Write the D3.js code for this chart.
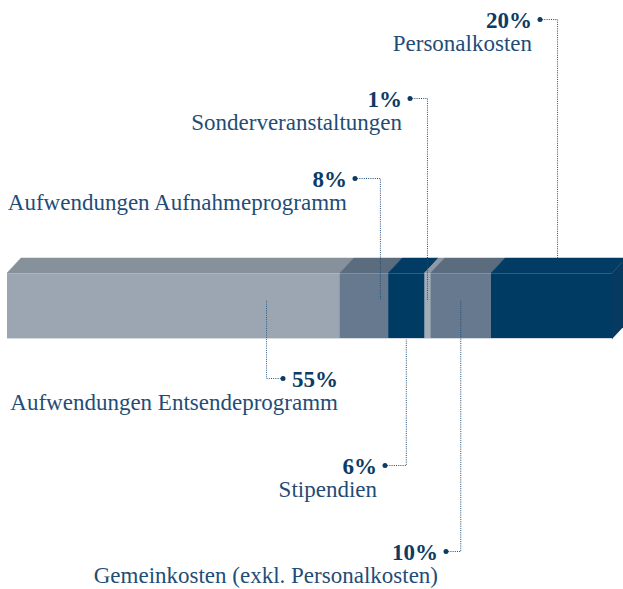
<!DOCTYPE html>
<html>
<head>
<meta charset="utf-8">
<script src="https://cdn.jsdelivr.net/npm/d3@7"></script>
<style>
  body { margin: 0; background: #fff; }
  svg { display: block; }
</style>
</head>
<body>
<script>
// data
const categories = [
  "Aufwendungen Entsendeprogramm",
  "Aufwendungen Aufnahmeprogramm",
  "Stipendien",
  "Sonderveranstaltungen",
  "Gemeinkosten (exkl. Personalkosten)",
  "Personalkosten",
];
const shares = [55, 8, 6, 1, 10, 20];

// front / top colours per segment
const frontColors = ["#9ba6b2", "#66798e", "#003b64", "#a3adb8", "#66798e", "#003b64"];
const topColors = ["#86919b", "#5b6c7e", "#023b63", "#8e99a4", "#5b6c7e", "#023b63"];

// label layout: right edge of text, baseline of percentage, leader anchor
const labelRight = [338, 347, 377, 402, 438, 532];
const labelBase = [387, 187, 474, 107, 560, 28];
const dotSide = ["left", "right", "right", "right", "right", "right"];
const anchorFrac = [0.78, 0.84, 0.5, 0.5, 0.5, 0.55];
const anchorEnd = ["mid", "mid", "bottom", "mid", "mid", "top"];

const width = 623;
const height = 589;

const barTop = 273;
const barBottom = 339;
const depthX = 14;
const depthY = 15;

const xScale = d3.scaleLinear().domain([0, d3.sum(shares)]).range([7, 612]);

const ends = d3.cumsum(shares);
const segments = shares.map((v, i) => ({
  name: categories[i],
  value: v,
  x0: xScale(ends[i] - v),
  x1: xScale(ends[i]),
  i,
}));

const svg = d3
  .select("body")
  .append("svg")
  .attr("width", width)
  .attr("height", height);

const barGroup = svg.append("g");

// top faces
barGroup
  .selectAll("path.top")
  .data(segments)
  .enter()
  .append("path")
  .attr("class", "top")
  .attr("fill", (d) => topColors[d.i])
  .attr("stroke", (d) => topColors[d.i])
  .attr("stroke-width", 0.5)
  .attr(
    "d",
    (d) =>
      `M${d.x0},${barTop} L${d.x1},${barTop} L${d.x1 + depthX},${barTop - depthY} L${d.x0 + depthX},${barTop - depthY}Z`
  );

// front faces
barGroup
  .selectAll("rect.front")
  .data(segments)
  .enter()
  .append("rect")
  .attr("class", "front")
  .attr("fill", (d) => frontColors[d.i])
  .attr("x", (d) => d.x0)
  .attr("y", barTop)
  .attr("width", (d) => d.x1 - d.x0 + 0.3)
  .attr("height", barBottom - barTop);

// right side face of last segment
const last = segments[segments.length - 1];
barGroup
  .append("path")
  .attr("fill", "#063a60")
  .attr(
    "d",
    `M${last.x1},${barTop} L${last.x1 + depthX},${barTop - depthY} L${last.x1 + depthX},${barBottom - depthY} L${last.x1},${barBottom}Z`
  );

// light edges
barGroup
  .append("line")
  .attr("x1", xScale(0))
  .attr("x2", xScale(100))
  .attr("y1", barTop + 0.5)
  .attr("y2", barTop + 0.5)
  .attr("stroke", "#ffffff")
  .attr("stroke-opacity", 0.18);

barGroup
  .append("line")
  .attr("x1", xScale(0))
  .attr("x2", xScale(100))
  .attr("y1", barBottom - 0.5)
  .attr("y2", barBottom - 0.5)
  .attr("stroke", "#d3dae1");

// labels
const labelGroup = svg.append("g");

const endY = { top: barTop - depthY, mid: 300, bottom: barBottom };

segments.forEach((d) => {
  const i = d.i;
  const g = labelGroup.append("g");

  const pct = g
    .append("text")
    .attr("x", labelRight[i])
    .attr("y", labelBase[i])
    .attr("text-anchor", "end")
    .attr("font-family", "'Liberation Serif', serif")
    .attr("font-weight", "bold")
    .attr("font-size", 23)
    .attr("fill", "#0c3b64")
    .text(`${d.value}%`);

  g.append("text")
    .attr("x", labelRight[i])
    .attr("y", labelBase[i] + 23)
    .attr("text-anchor", "end")
    .attr("font-family", "'Liberation Serif', serif")
    .attr("font-size", 23)
    .attr("fill", "#1f4d77")
    .text(d.name);

  const pctWidth = pct.node().getComputedTextLength();
  const dotX =
    dotSide[i] === "right" ? labelRight[i] + 8 : labelRight[i] - pctWidth - 9;
  const dotY = labelBase[i] - 9;
  const leaderX = d.x0 + (d.x1 - d.x0) * anchorFrac[i];

  g.append("path")
    .attr("fill", "none")
    .attr("stroke", i === 0 ? "#2f5a84" : "#1f4d77")
    .attr("stroke-width", 1)
    .attr("stroke-dasharray", "1,1.2")
    .attr("d", `M${dotX},${dotY + 0.5} H${leaderX} V${endY[anchorEnd[i]]}`);

  g.append("circle")
    .attr("cx", dotX)
    .attr("cy", dotY + 0.5)
    .attr("r", 2.5)
    .attr("fill", "#0c3b64");
});
</script>
</body>
</html>
